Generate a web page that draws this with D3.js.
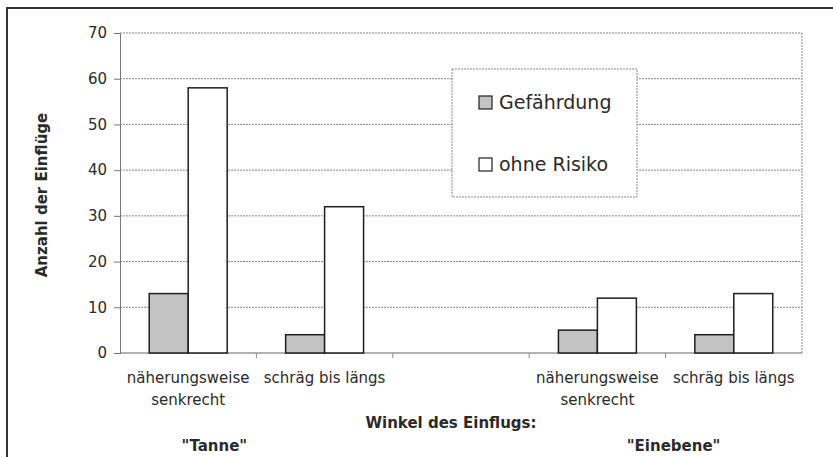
<!DOCTYPE html>
<html>
<head>
<meta charset="utf-8">
<script src="https://cdn.jsdelivr.net/npm/d3@7"></script>
<style>
  body { margin: 0; background: #fff; }
  text { font-family: "DejaVu Sans", "Liberation Sans", sans-serif; fill: #2a2a2a; }
</style>
</head>
<body>
<div id="chart"></div>
<script>
// data
const categories = ["c1", "c2", "gap", "c3", "c4"];
const catLabels = [
  ["näherungsweise", "senkrecht"],
  ["schräg bis längs"],
  [],
  ["näherungsweise", "senkrecht"],
  ["schräg bis längs"]
];
const seriesNames = ["Gefährdung", "ohne Risiko"];
const gefaehrdung = [13, 4, null, 5, 4];
const ohneRisiko = [58, 32, null, 12, 13];
const yTicks = [0, 10, 20, 30, 40, 50, 60, 70];
const groupLabels = ['"Tanne"', '"Einebene"'];

const width = 833, height = 457;
const margin = {top: 33, right: 31, bottom: 104, left: 120};

const svg = d3.select("#chart").append("svg")
  .attr("width", width)
  .attr("height", height);

// outer frame (top + left edges visible in scan)
svg.append("line").attr("x1", 6).attr("x2", width).attr("y1", 8).attr("y2", 8)
  .attr("stroke", "#333").attr("stroke-width", 2);
svg.append("line").attr("x1", 7).attr("x2", 7).attr("y1", 7).attr("y2", height)
  .attr("stroke", "#333").attr("stroke-width", 2);

const x = d3.scaleBand()
  .domain(categories)
  .range([margin.left, width - margin.right])
  .paddingInner(0).paddingOuter(0);

const xs = d3.scaleBand()
  .domain(seriesNames)
  .range([0, x.bandwidth()])
  .paddingInner(0).paddingOuter(0.75);

const y = d3.scaleLinear()
  .domain([0, 70])
  .range([height - margin.bottom, margin.top]);

const color = d3.scaleOrdinal().domain(seriesNames).range(["#c3c3c3", "#ffffff"]);

// gridlines
svg.append("g")
  .selectAll("line")
  .data(yTicks.filter(d => d > 0))
  .join("line")
  .attr("x1", margin.left).attr("x2", width - margin.right)
  .attr("y1", d => y(d)).attr("y2", d => y(d))
  .attr("stroke", "#8a8a8a").attr("stroke-width", 1)
  .attr("stroke-dasharray", "2,1");

// right border of plot area
svg.append("line")
  .attr("x1", width - margin.right).attr("x2", width - margin.right)
  .attr("y1", y(70)).attr("y2", y(0))
  .attr("stroke", "#8a8a8a").attr("stroke-dasharray", "2,1");

// y axis
const yAxis = svg.append("g")
  .attr("transform", `translate(${margin.left},0)`)
  .call(d3.axisLeft(y).tickValues(yTicks).tickSize(6).tickPadding(7));
yAxis.select(".domain").attr("stroke", "#777");
yAxis.selectAll(".tick line").attr("stroke", "#777");
yAxis.selectAll(".tick text")
  .attr("font-size", 15)
  .attr("fill", "#2a2a2a")
  .style("font-family", "DejaVu Sans, sans-serif");

// x axis line with ticks between categories
svg.append("line")
  .attr("x1", margin.left).attr("x2", width - margin.right)
  .attr("y1", y(0)).attr("y2", y(0))
  .attr("stroke", "#666").attr("stroke-width", 1.2);
svg.append("g")
  .selectAll("line")
  .data(categories.slice(1))
  .join("line")
  .attr("x1", d => x(d)).attr("x2", d => x(d))
  .attr("y1", y(0)).attr("y2", y(0) + 5)
  .attr("stroke", "#888");

// bars
const rows = categories.map((c, i) => ({cat: c, values: [gefaehrdung[i], ohneRisiko[i]]}));
svg.append("g")
  .selectAll("g")
  .data(rows)
  .join("g")
  .attr("transform", d => `translate(${x(d.cat)},0)`)
  .selectAll("rect")
  .data(d => d.values.map((v, j) => ({key: seriesNames[j], value: v})).filter(d => d.value != null))
  .join("rect")
  .attr("x", d => xs(d.key))
  .attr("y", d => y(d.value))
  .attr("width", xs.bandwidth())
  .attr("height", d => y(0) - y(d.value))
  .attr("fill", d => color(d.key))
  .attr("stroke", "#1e1e1e")
  .attr("stroke-width", 1.5);

// category labels
svg.append("g")
  .selectAll("text")
  .data(categories.map((c, i) => ({cat: c, lines: catLabels[i]})))
  .join("text")
  .attr("x", d => x(d.cat) + x.bandwidth() / 2)
  .attr("y", y(0) + 30)
  .attr("text-anchor", "middle")
  .attr("font-size", 15)
  .selectAll("tspan")
  .data(d => d.lines.map(l => ({l, cx: x(d.cat) + x.bandwidth() / 2})))
  .join("tspan")
  .attr("x", d => d.cx)
  .attr("dy", (d, i) => i ? 22 : 0)
  .text(d => d.l);

// axis titles
svg.append("text")
  .attr("transform", `translate(47,${(y(0) + y(70)) / 2 + 2}) rotate(-90)`)
  .attr("text-anchor", "middle")
  .attr("font-size", 15)
  .attr("font-weight", "bold")
  .attr("fill", "#333")
  .text("Anzahl der Einflüge");

svg.append("text")
  .attr("x", 451)
  .attr("y", 428)
  .attr("text-anchor", "middle")
  .attr("font-size", 15)
  .attr("font-weight", "bold")
  .attr("fill", "#444")
  .text("Winkel des Einflugs:");

// group labels under the two clusters
svg.append("g")
  .selectAll("text")
  .data(groupLabels)
  .join("text")
  .attr("x", (d, i) => i === 0 ? x("c2") - 42 : x("c4") + 8)
  .attr("y", 451)
  .attr("text-anchor", "middle")
  .attr("font-size", 15)
  .attr("font-weight", "bold")
  .attr("fill", "#333")
  .text(d => d);

// legend
const legend = svg.append("g").attr("transform", "translate(452,69)");
legend.append("rect")
  .attr("width", 185).attr("height", 128)
  .attr("fill", "#fff")
  .attr("stroke", "#8a8a8a").attr("stroke-dasharray", "2,1");
const item = legend.selectAll("g")
  .data(seriesNames)
  .join("g")
  .attr("transform", (d, i) => `translate(27,${27 + i * 62})`);
item.append("rect")
  .attr("width", 13).attr("height", 13)
  .attr("fill", d => color(d))
  .attr("stroke", "#1e1e1e").attr("stroke-width", 1.2);
item.append("text")
  .attr("x", 20).attr("y", 13)
  .attr("font-size", 19)
  .text(d => d);
</script>
</body>
</html>
